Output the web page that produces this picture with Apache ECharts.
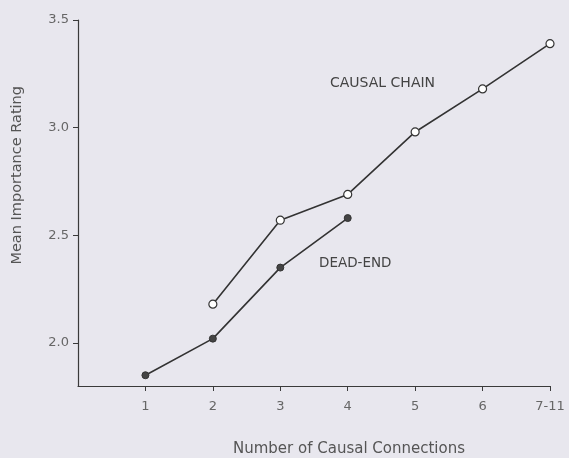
<!DOCTYPE html>
<html>
<head>
<meta charset="utf-8">
<script src="https://cdn.jsdelivr.net/npm/echarts@6/dist/echarts.min.js"></script>
<style>
html,body{margin:0;padding:0;background:#e8e7ee;}
#chart{width:569px;height:458px;}
</style>
</head>
<body>
<div id="chart"></div>
<script>
var categories = ['1', '2', '3', '4', '5', '6', '7-11'];
var causalChainStart = 2;
var causalChain = [2.18, 2.57, 2.69, 2.98, 3.18, 3.39];
var deadEndStart = 1;
var deadEnd = [1.85, 2.02, 2.35, 2.58];
var yTicks = [2.0, 2.5, 3.0, 3.5];

var chart = echarts.init(document.getElementById('chart'));
var font = '"DejaVu Sans", sans-serif';
var tickPos = categories.map(function (c, i) { return i + 1; });

function toPairs(start, arr) {
  return arr.map(function (v, i) { return [start + i, v]; });
}

chart.setOption({
  backgroundColor: '#e8e7ee',
  animation: false,
  grid: { left: 78, right: 19, top: 20, bottom: 72 },
  xAxis: {
    type: 'value', min: 0, max: 7,
    axisLine: { show: true, lineStyle: { color: '#3a3a3a', width: 1.2 } },
    axisTick: { show: true, length: 5, customValues: tickPos, lineStyle: { color: '#3a3a3a' } },
    axisLabel: {
      customValues: tickPos, margin: 14,
      color: '#666', fontFamily: font, fontSize: 13,
      formatter: function (v) { return categories[Math.round(v) - 1] || ''; }
    },
    splitLine: { show: false }
  },
  yAxis: {
    type: 'value', min: 1.8, max: 3.5,
    axisLine: { show: true, lineStyle: { color: '#3a3a3a', width: 1.2 } },
    axisTick: { show: true, length: 5, customValues: yTicks, lineStyle: { color: '#3a3a3a' } },
    axisLabel: {
      customValues: yTicks, margin: 9,
      color: '#666', fontFamily: font, fontSize: 13,
      formatter: function (v) { return v.toFixed(1); }
    },
    splitLine: { show: false }
  },
  graphic: [
    { type: 'text', left: 10, top: 86, rotation: Math.PI / 2,
      style: { text: 'Mean Importance Rating', fill: '#555', font: '14.5px ' + font } },
    { type: 'text', x: 349, y: 449,
      style: { text: 'Number of Causal Connections', fill: '#555', font: '15px ' + font,
               align: 'center', verticalAlign: 'middle' } },
    { type: 'text', x: 330, y: 83,
      style: { text: 'CAUSAL CHAIN', fill: '#444', font: '14px ' + font, verticalAlign: 'middle' } },
    { type: 'text', x: 319, y: 263,
      style: { text: 'DEAD-END', fill: '#444', font: '13.5px ' + font, verticalAlign: 'middle' } }
  ],
  series: [
    {
      name: 'CAUSAL CHAIN', type: 'line', data: toPairs(causalChainStart, causalChain),
      symbol: 'circle', symbolSize: 8,
      lineStyle: { color: '#333', width: 1.6 },
      itemStyle: { color: '#ffffff', borderColor: '#333', borderWidth: 1.2 }
    },
    {
      name: 'DEAD-END', type: 'line', data: toPairs(deadEndStart, deadEnd),
      symbol: 'circle', symbolSize: 7,
      lineStyle: { color: '#333', width: 1.6 },
      itemStyle: { color: '#444', borderColor: '#333', borderWidth: 1 }
    }
  ]
});
</script>
</body>
</html>
